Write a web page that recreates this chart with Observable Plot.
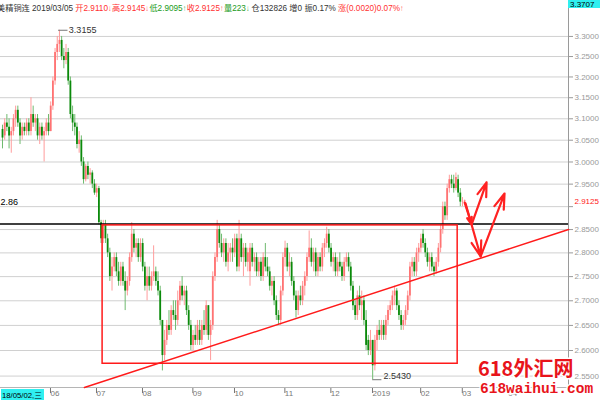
<!DOCTYPE html>
<html><head><meta charset="utf-8">
<script src="https://cdn.jsdelivr.net/npm/d3@7"></script>
<script src="https://cdn.jsdelivr.net/npm/@observablehq/plot@0.6"></script>
<style>
body{margin:0;background:#fff;}
#chart{position:relative;width:600px;height:400px;overflow:hidden;}
svg{display:block;}
</style></head><body><div id="chart"></div>
<script>
// ---- daily candles, 2018/05/02 .. 2019/03/05 (trading-day index 0..211) ----
const opens = [
3.075,3.060,3.090,3.080,3.060,3.070,3.100,3.120,3.090,3.060,
3.080,3.070,3.090,3.070,3.110,3.090,3.100,3.060,3.080,3.060,
3.070,3.090,3.070,3.130,3.190,3.260,3.280,3.290,3.250,3.240,
3.260,3.190,3.110,3.090,3.080,3.040,3.050,3.000,2.960,2.990,
2.970,2.975,2.950,2.930,2.940,2.865,2.830,2.860,2.830,2.800,
2.750,2.770,2.790,2.760,2.740,2.770,2.740,2.720,2.740,2.790,
2.840,2.810,2.820,2.790,2.820,2.770,2.730,2.750,2.730,2.750,
2.760,2.740,2.720,2.660,2.590,2.620,2.650,2.640,2.680,2.670,
2.660,2.700,2.730,2.710,2.720,2.680,2.650,2.610,2.630,2.620,
2.640,2.620,2.650,2.640,2.690,2.630,2.650,2.750,2.790,2.850,
2.820,2.800,2.820,2.780,2.800,2.810,2.800,2.830,2.770,2.830,
2.790,2.810,2.780,2.760,2.810,2.780,2.790,2.760,2.780,2.750,
2.790,2.770,2.760,2.730,2.740,2.700,2.670,2.660,2.720,2.790,
2.810,2.770,2.780,2.740,2.710,2.680,2.710,2.700,2.730,2.750,
2.790,2.810,2.780,2.800,2.760,2.790,2.770,2.810,2.820,2.840,
2.810,2.780,2.790,2.760,2.780,2.770,2.750,2.780,2.790,2.770,
2.730,2.690,2.670,2.710,2.690,2.700,2.660,2.620,2.600,2.620,
2.570,2.620,2.640,2.630,2.650,2.630,2.660,2.680,2.690,2.710,
2.720,2.690,2.670,2.650,2.660,2.680,2.710,2.770,2.780,2.760,
2.800,2.810,2.840,2.820,2.800,2.780,2.790,2.770,2.760,2.780,
2.810,2.850,2.900,2.880,2.940,2.960,2.950,2.940,2.960,2.930,
2.910,2.9110];
const highs = [
3.085,3.100,3.110,3.100,3.080,3.110,3.130,3.130,3.100,3.090,
3.090,3.100,3.100,3.150,3.130,3.110,3.110,3.090,3.090,3.080,
3.100,3.110,3.140,3.200,3.270,3.300,3.3155,3.300,3.270,3.280,
3.270,3.200,3.130,3.110,3.090,3.070,3.060,3.010,2.995,3.000,
2.985,2.980,2.960,2.950,2.945,2.870,2.870,2.870,2.840,2.810,
2.790,2.800,2.800,2.780,2.780,2.780,2.760,2.750,2.800,2.865,
2.850,2.830,2.830,2.830,2.830,2.780,2.770,2.770,2.760,2.815,
2.770,2.760,2.730,2.660,2.640,2.660,2.680,2.690,2.700,2.700,
2.720,2.740,2.750,2.730,2.730,2.690,2.660,2.640,2.650,2.660,
2.660,2.660,2.680,2.700,2.690,2.660,2.760,2.800,2.870,2.860,
2.840,2.830,2.830,2.820,2.820,2.830,2.840,2.840,2.870,2.840,
2.820,2.820,2.810,2.820,2.820,2.800,2.800,2.790,2.790,2.800,
2.820,2.790,2.770,2.750,2.750,2.710,2.680,2.730,2.800,2.825,
2.820,2.800,2.790,2.750,2.720,2.720,2.730,2.740,2.760,2.800,
2.847,2.830,2.810,2.810,2.800,2.800,2.820,2.830,2.855,2.850,
2.820,2.800,2.800,2.790,2.800,2.780,2.790,2.800,2.800,2.780,
2.740,2.700,2.720,2.730,2.720,2.710,2.680,2.630,2.640,2.620,
2.630,2.650,2.660,2.660,2.660,2.670,2.690,2.700,2.720,2.730,
2.725,2.700,2.680,2.670,2.690,2.720,2.780,2.790,2.790,2.810,
2.820,2.840,2.850,2.830,2.810,2.800,2.800,2.780,2.790,2.820,
2.860,2.910,2.910,2.950,2.970,2.970,2.970,2.975,2.970,2.940,
2.920,2.9145];
const lows = [
3.030,3.050,3.070,3.030,3.020,3.060,3.080,3.080,3.040,3.050,
3.060,3.060,3.060,3.060,3.080,3.070,3.050,3.040,3.050,3.000,
3.060,3.060,3.070,3.120,3.180,3.240,3.260,3.240,3.220,3.230,
3.180,3.100,3.070,3.060,3.030,3.020,2.990,2.950,2.955,2.960,
2.950,2.940,2.925,2.920,2.860,2.820,2.820,2.820,2.790,2.740,
2.720,2.760,2.750,2.730,2.730,2.730,2.680,2.710,2.730,2.780,
2.800,2.790,2.780,2.780,2.760,2.720,2.700,2.720,2.720,2.740,
2.730,2.710,2.650,2.560,2.580,2.610,2.630,2.630,2.660,2.640,
2.650,2.690,2.700,2.690,2.670,2.640,2.600,2.600,2.610,2.610,
2.610,2.610,2.630,2.630,2.620,2.580,2.640,2.740,2.780,2.810,
2.790,2.780,2.770,2.760,2.780,2.780,2.790,2.760,2.760,2.780,
2.750,2.770,2.760,2.730,2.770,2.760,2.750,2.750,2.740,2.740,
2.760,2.750,2.720,2.710,2.690,2.660,2.650,2.650,2.710,2.770,
2.760,2.750,2.730,2.700,2.665,2.670,2.690,2.690,2.710,2.740,
2.780,2.770,2.760,2.750,2.750,2.760,2.760,2.790,2.810,2.800,
2.770,2.760,2.750,2.750,2.760,2.740,2.740,2.770,2.760,2.720,
2.680,2.660,2.660,2.680,2.660,2.650,2.600,2.590,2.590,2.543,
2.560,2.600,2.620,2.620,2.620,2.620,2.650,2.670,2.680,2.690,
2.680,2.660,2.640,2.640,2.650,2.670,2.700,2.750,2.750,2.750,
2.780,2.800,2.810,2.790,2.770,2.760,2.760,2.750,2.755,2.770,
2.800,2.840,2.870,2.870,2.930,2.940,2.930,2.935,2.920,2.900,
2.900,2.9095];
const closes = [
3.055,3.090,3.080,3.060,3.070,3.100,3.120,3.090,3.060,3.080,
3.070,3.090,3.070,3.110,3.090,3.100,3.060,3.080,3.060,3.070,
3.090,3.070,3.130,3.190,3.260,3.280,3.290,3.250,3.240,3.260,
3.190,3.110,3.090,3.080,3.040,3.050,3.000,2.960,2.990,2.970,
2.975,2.950,2.930,2.940,2.865,2.830,2.860,2.830,2.800,2.750,
2.770,2.790,2.760,2.740,2.770,2.740,2.720,2.740,2.790,2.840,
2.810,2.820,2.790,2.820,2.770,2.730,2.750,2.730,2.750,2.760,
2.740,2.720,2.660,2.590,2.620,2.650,2.640,2.680,2.670,2.660,
2.700,2.730,2.710,2.720,2.680,2.650,2.610,2.630,2.620,2.650,
2.620,2.650,2.640,2.690,2.630,2.650,2.750,2.790,2.850,2.820,
2.800,2.820,2.780,2.800,2.810,2.800,2.830,2.770,2.830,2.790,
2.810,2.780,2.800,2.810,2.780,2.790,2.760,2.780,2.750,2.790,
2.770,2.760,2.730,2.740,2.700,2.670,2.660,2.720,2.790,2.810,
2.770,2.780,2.740,2.710,2.680,2.710,2.700,2.730,2.750,2.790,
2.810,2.780,2.800,2.760,2.790,2.770,2.810,2.820,2.840,2.810,
2.780,2.790,2.760,2.780,2.770,2.750,2.780,2.790,2.770,2.730,
2.690,2.670,2.710,2.690,2.700,2.660,2.610,2.600,2.620,2.570,
2.620,2.640,2.630,2.650,2.630,2.660,2.680,2.690,2.710,2.720,
2.690,2.670,2.650,2.660,2.680,2.710,2.770,2.780,2.760,2.800,
2.810,2.830,2.820,2.800,2.780,2.790,2.770,2.760,2.780,2.810,
2.850,2.900,2.880,2.940,2.960,2.950,2.940,2.965,2.930,2.910,
2.9105,2.9125];

// ---- axes / ticks ----
const monthTickIndex = [21,42,63,86,105,128,149,168,190,209,230];
const monthTickLabel = ["06","07","08","09","10","11","12","2019","02","03","04"];
const firstDateLabel = "18/05/02,三";
const priceTicks = [2.55,2.60,2.65,2.70,2.75,2.80,2.85,2.90,2.95,3.00,3.05,3.10,3.15,3.20,3.25,3.30];
const indexDomain = [-0.913, 258.4];
const priceDomain = [2.528, 3.3707];

// ---- header info ----
const symbolName = "美精铜连";
const lastDate = "2019/03/05";
const volume = 223;
const openInterest = 132826;
const oiChange = 0;

// ---- drawn annotations (index, price) ----
const resistance = 2.862;
const boxIndex = [45.7, 207.8];
const boxPrice = [2.574, 2.859];
const trendIndex = [37.4, 258.4];
const trendPrice = [2.528, 2.850];
const arrowFromIndex = [211.0, 214.2, 211.4, 218.3];
const arrowFromPrice = [2.909, 2.861, 2.907, 2.7925];
const arrowToIndex   = [214.2, 221.0, 218.3, 229.2];
const arrowToPrice   = [2.861, 2.954, 2.7925, 2.929];

// ---- build tables ----
const candles = opens.map((o, i) => ({i, o, h: highs[i], l: lows[i], c: closes[i]}));
const ups = candles.filter(d => d.c >= d.o);
const downs = candles.filter(d => d.c < d.o);
const arrows = arrowFromIndex.map((x1, k) => ({x1, y1: arrowFromPrice[k], x2: arrowToIndex[k], y2: arrowToPrice[k]}));
const last = closes.length - 1;
const hiIdx = highs.indexOf(d3.max(highs));
const loIdx = lows.indexOf(d3.min(lows));

const chart = Plot.plot({
  width: 600, height: 400,
  marginLeft: 0, marginRight: 32, marginTop: 8, marginBottom: 13,
  style: {background: "#fff", fontFamily: "'Liberation Sans', Arial, sans-serif", overflow: "visible"},
  x: {type: "linear", domain: indexDomain, axis: null},
  y: {type: "log", domain: priceDomain, axis: null},
  marks: [
    Plot.gridY(priceTicks, {stroke: "#d0d0d0", strokeOpacity: 1}),
    Plot.axisY(priceTicks, {anchor: "right", tickSize: 4, tickPadding: 2, fontSize: 8, color: "#9a9a9a",
      tickFormat: d => Math.abs(d - 2.9) < 1e-9 ? "" : d.toFixed(4), label: null}),
    Plot.axisX(monthTickIndex, {anchor: "bottom", tickSize: 6, tickPadding: -3, fontSize: 8, color: "#777",
      textAnchor: "start", dx: 2, tickFormat: d => monthTickLabel[monthTickIndex.indexOf(d)], label: null}),
    Plot.ruleX([indexDomain[1]], {stroke: "#9a9a9a"}),
    Plot.ruleY([priceDomain[0]], {stroke: "#b5b5b5"}),
    // wicks
    Plot.ruleX(ups, {x: "i", y1: "l", y2: "h", stroke: "#ff9c9c", strokeWidth: 1}),
    Plot.ruleX(downs, {x: "i", y1: "l", y2: "h", stroke: "#6fba6f", strokeWidth: 1}),
    // bodies
    Plot.ruleX(ups, {x: "i", y1: "o", y2: "c", stroke: "#ff7373", strokeWidth: 1.8}),
    Plot.ruleX(downs, {x: "i", y1: "o", y2: "c", stroke: "#0b8a0b", strokeWidth: 1.8}),
    // extreme labels
    Plot.ruleY([highs[hiIdx]], {x1: hiIdx - 0.4, x2: hiIdx + 3.9, stroke: "#777"}),
    Plot.text([highs[hiIdx]], {x: hiIdx + 4.3, y: d => d, text: d => d.toFixed(4), textAnchor: "start", fontSize: 9, fill: "#333"}),
    Plot.ruleY([lows[loIdx]], {x1: loIdx, x2: loIdx + 4.2, stroke: "#777"}),
    Plot.text([lows[loIdx]], {x: loIdx + 4.9, y: d => d, dy: -4, text: d => d.toFixed(4), textAnchor: "start", fontSize: 9, fill: "#333"}),
    // drawn lines
    Plot.ruleY([resistance], {stroke: "#000", strokeWidth: 1.6}),
    Plot.text([resistance], {frameAnchor: "left", y: d => d, dy: -22, text: d => d.toFixed(2), textAnchor: "start", fontSize: 9, fill: "#000"}),
    Plot.rect([0], {x1: boxIndex[0], x2: boxIndex[1], y1: boxPrice[0], y2: boxPrice[1], fill: "none", stroke: "#ff1a1a", strokeWidth: 1.5}),
    Plot.line(trendIndex.map((x, k) => ({x, y: trendPrice[k]})), {x: "x", y: "y", stroke: "#ff1a1a", strokeWidth: 1.5}),
    Plot.arrow(arrows, {x1: "x1", y1: "y1", x2: "x2", y2: "y2", stroke: "#ff2222", strokeWidth: 2.2, headLength: 11, headAngle: 36}),
    // current price on axis
    Plot.text([closes[last]], {frameAnchor: "right", y: d => d, dx: 6, text: d => d.toFixed(4), textAnchor: "start", fontSize: 8, fill: "#ff2020"})
  ]
});
document.getElementById("chart").appendChild(chart);

// ---- chrome overlays ----
const svg = d3.select(chart);
const font = "'Liberation Sans', 'Noto Sans CJK SC', Arial, sans-serif";
const prev = closes[last - 1];
const chg = closes[last] - prev;
const amp = (highs[last] - lows[last]) / prev * 100;
const red = "#ff3030", green = "#1a9a1a", ink = "#333";
// [text, colour, gap after, isArrow]
const header = [
  [symbolName, ink, 2.3], [lastDate, ink, 2.3],
  ["开" + opens[last].toFixed(4), red, 0.3], ["↓", red, 0.8, true],
  ["高" + highs[last].toFixed(4), red, 0.3], ["↓", red, 0.8, true],
  ["低" + lows[last].toFixed(4), green, 0.3], ["↑", green, 0.8, true],
  ["收" + closes[last].toFixed(4), red, 0.3], ["↑", red, 0.8, true],
  ["量" + volume, green, 0.3], ["↓", green, 2.3, true],
  ["仓" + openInterest, ink, 2.3],
  ["增" + oiChange, ink, 2.3],
  ["振" + amp.toFixed(2) + "%", ink, 2.3],
  ["涨(" + chg.toFixed(4) + ")" + (chg / prev * 100).toFixed(2) + "%", red, 0.3], ["↑", red, 0, true]
];
const hg = svg.append("g").attr("font-family", font).attr("font-size", 8.2).attr("text-anchor", "start");
let hx = -3;
header.forEach(([t, c, gap, arrow]) => {
  const el = hg.append("text").attr("x", hx).attr("y", 11).attr("fill", c).text(t);
  if (arrow) { el.attr("textLength", 3).attr("lengthAdjust", "spacingAndGlyphs"); hx += 3 + gap; }
  else hx += el.node().getComputedTextLength() + gap;
});

const ov = svg.append("g").attr("text-anchor", "start").attr("font-family", font);
// top axis value box
const yTopPx = chart.scale("y").apply(priceDomain[1]);
ov.append("rect").attr("x", 568).attr("y", yTopPx - 12).attr("width", 32).attr("height", 12).attr("fill", "#2ff0f0");
ov.append("text").attr("x", 570).attr("y", yTopPx - 1).attr("font-size", 8).attr("fill", "#000").text(priceDomain[1].toFixed(4));

// first date box
const x0 = chart.scale("x").apply(0);
ov.append("rect").attr("x", x0 - 1).attr("y", 389).attr("width", 43).attr("height", 11).attr("fill", "#2ff0f0");
ov.append("text").attr("x", x0).attr("y", 397.5).attr("font-size", 8).attr("fill", "#000")
  .attr("textLength", 40).attr("lengthAdjust", "spacingAndGlyphs").text(firstDateLabel);

// watermark (with white halo, as in the reference)
ov.append("text").attr("x", 478).attr("y", 376).attr("font-size", 20).attr("font-weight", "bold")
  .attr("font-family", "'Noto Sans CJK SC', sans-serif").attr("fill", "#e8141b")
  .attr("stroke", "#fff").attr("stroke-width", 3).attr("paint-order", "stroke").text("618外汇网");
ov.append("text").attr("x", 480).attr("y", 393).attr("font-size", 14.5).attr("font-weight", "bold")
  .attr("font-family", "'Liberation Mono', monospace").attr("fill", "#e8141b")
  .attr("stroke", "#fff").attr("stroke-width", 3).attr("paint-order", "stroke").text("618waihui.com");
</script>
</body></html>
